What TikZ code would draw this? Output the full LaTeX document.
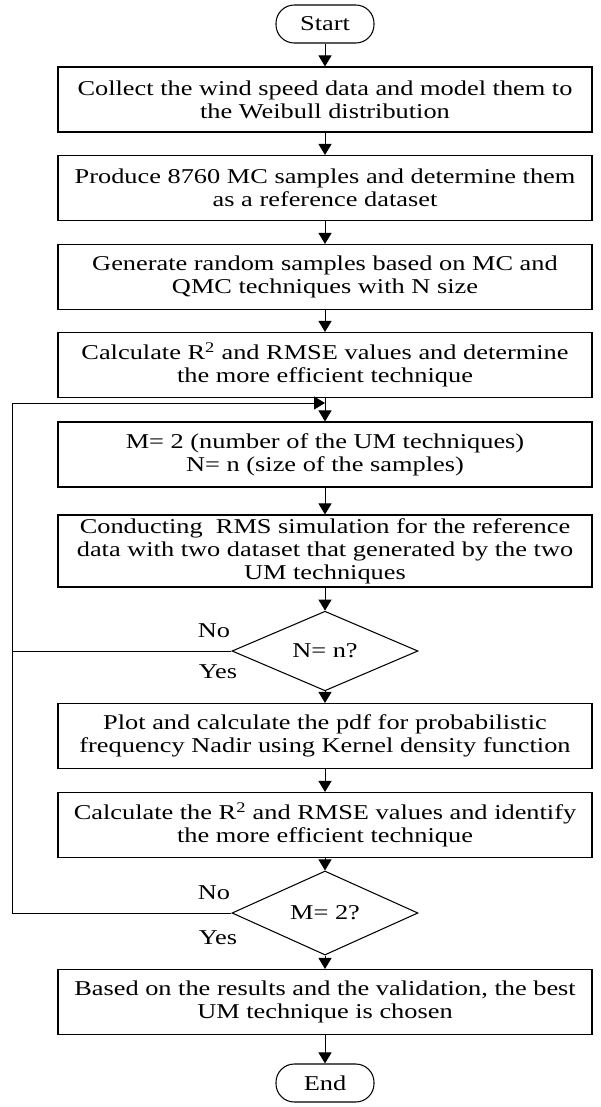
\documentclass[tikz,border=0pt]{standalone}
\usepackage{fontspec}
\setmainfont[FakeStretch=1.25]{Liberation Serif}
\usetikzlibrary{arrows.meta,shapes.geometric}

\tikzset{
	stepbox/.style={draw, line width=0.9pt, minimum width=16.02cm, minimum height=1.95cm, inner sep=0pt, align=center, font=\fontsize{18}{19.6}\selectfont},
	terminal/.style={draw, line width=0.9pt, rounded corners=0.55cm, minimum width=2.94cm, minimum height=1.14cm, inner sep=0pt, font=\fontsize{18}{19.6}\selectfont},
	decision/.style={draw, diamond, line width=0.9pt, minimum width=5.58cm, minimum height=1.92cm, inner sep=0pt, font=\fontsize{18}{19.6}\selectfont},
	flow/.style={line width=0.8pt, -{Triangle[length=0.33cm, width=0.39cm]}},
	answer/.style={font=\fontsize{18}{19.6}\selectfont}
}

\begin{document}
\begin{tikzpicture}
				\useasboundingbox (0,0) rectangle (18,-33.21);
				% start and end
				\node[terminal] (start) at (9.75,-0.72) {Start};
				\node[terminal] (finish) at (9.75,-32.49) {End};

				% process steps
				\node[stepbox] (collect) at (9.75,-2.985) {Collect the wind speed data and model them to\\ the Weibull distribution};
				\node[stepbox] (produce) at (9.75,-5.64) {Produce 8760 MC samples and determine them\\ as a reference dataset};
				\node[stepbox] (generate) at (9.75,-8.31) {Generate random samples based on MC and\\ QMC techniques with N size};
				\node[stepbox] (compare) at (9.75,-10.95) {Calculate R\textsuperscript{2} and RMSE values and determine\\ the more efficient technique};
				\node[stepbox] (setup) at (9.75,-13.635) {M= 2 (number of the UM techniques)\\ N= n (size of the samples)};
				\node[stepbox, minimum height=2.16cm] (simulate) at (9.75,-16.53) {Conducting\ \ RMS simulation for the reference\\ data with two dataset that generated by the two\\ UM techniques};
				\node[stepbox] (plot) at (9.75,-22.08) {Plot and calculate the pdf for probabilistic\\ frequency Nadir using Kernel density function};
				\node[stepbox] (identify) at (9.75,-24.75) {Calculate the R\textsuperscript{2} and RMSE values and identify\\ the more efficient technique};
				\node[stepbox] (choose) at (9.75,-30.06) {Based on the results and the validation, the best\\ UM technique is chosen};

				% decisions
				\node[decision] (checkn) at (9.75,-19.53) {N= n?};
				\node[decision] (checkm) at (9.75,-27.39) {M= 2?};

				% main flow
				\foreach \a/\b in {start/collect, collect/produce, produce/generate, generate/compare, compare/setup, setup/simulate, simulate/checkn, checkn/plot, plot/identify, identify/checkm, checkm/choose, choose/finish}
					\draw[flow] (\a) -- (\b);

				% loops back
				\coordinate (rail) at (0.36,-12.09);
				\coordinate (merge) at (9.75,-12.09);
				\draw[flow] (checkn.west) -| (rail) -- (merge);
				\draw[line width=0.8pt] (checkm.west) -| (checkn.west -| rail);

				% answers
				\node[answer] (non) at (6.42,-18.93) {No};
				\node[answer] (yesn) at (6.54,-20.16) {Yes};
				\node[answer] (nom) at (6.42,-26.79) {No};
				\node[answer] (yesm) at (6.54,-28.14) {Yes};
			\end{tikzpicture}
\end{document}
